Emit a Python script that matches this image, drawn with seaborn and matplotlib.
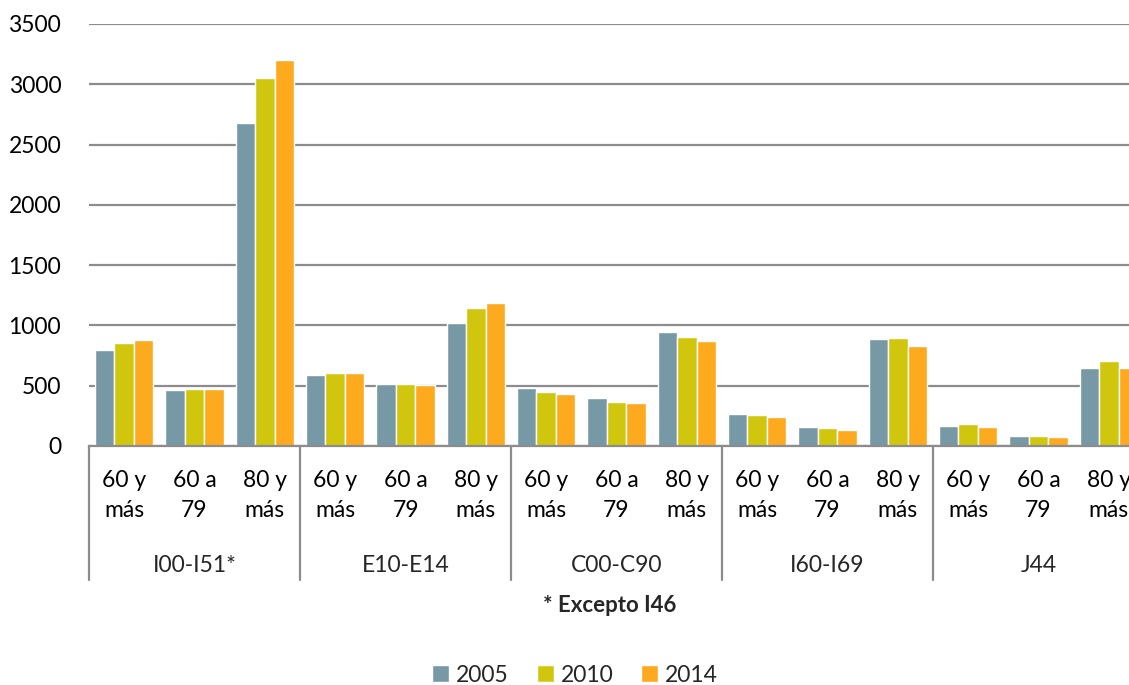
import pandas as pd
import seaborn as sns
import matplotlib.pyplot as plt
from matplotlib.patches import Patch

groups = ["I00-I51*", "E10-E14", "C00-C90", "I60-I69", "J44"]
ages = ["60 y\nmás", "60 a\n79", "80 y\nmás"]
years = ["2005", "2010", "2014"]

v2005 = [793, 461, 2677, 586, 511, 1017, 483, 401, 942, 268, 157, 890, 168, 86, 646]
v2010 = [856, 472, 3053, 608, 514, 1146, 448, 368, 906, 260, 149, 895, 179, 84, 702]
v2014 = [876, 469, 3199, 605, 503, 1188, 431, 354, 870, 238, 133, 829, 157, 75, 646]

colors = ["#7799A5", "#D1C60E", "#FDAA1F"]

keys = [g + "|" + a for g in groups for a in ages]
rows = []
for yr, vals in zip(years, [v2005, v2010, v2014]):
    for k, v in zip(keys, vals):
        rows.append({"cat": k, "year": yr, "value": v})
df = pd.DataFrame(rows)

sns.set_style("white")
plt.rcParams['font.family'] = ['Lato', 'DejaVu Sans']

fig = plt.figure(figsize=(11.29, 6.85), dpi=100)
ax = fig.add_axes([89 / 1129, 1 - 446 / 685, 1 - 89 / 1129, 422 / 685])

sns.barplot(data=df, x="cat", y="value", hue="year", order=keys,
            palette=colors, saturation=1, width=0.83, edgecolor="white",
            linewidth=1, ax=ax, legend=False)

ax.set_ylim(0, 3500)
ax.set_xlim(-0.5, -0.5 + (1129 - 89) / (211 / 3))
ax.set_yticks(range(0, 3501, 500))
ax.yaxis.grid(True, color="#8c8c8c", lw=1.6)
ax.set_axisbelow(True)
for s in ["left", "top", "right"]:
    ax.spines[s].set_visible(False)
ax.spines["bottom"].set_color("#8c8c8c")
ax.spines["bottom"].set_linewidth(1.6)
ax.tick_params(axis="both", length=0, labelsize=16.5, colors="black")
ax.tick_params(axis="y", pad=20)
ax.set_xticks(range(len(keys)))
ax.set_xticklabels([a for g in groups for a in ages], fontsize=16.5,
                   linespacing=1.55)
ax.tick_params(axis="x", pad=17)
ax.set_xlabel("")
ax.set_ylabel("")

tr = ax.get_xaxis_transform()
for i in range(len(groups)):
    ax.plot([i * 3 - 0.5, i * 3 - 0.5], [0, -(580 - 446) / 422], color="#8c8c8c",
            lw=1.6, transform=tr, clip_on=False)
    ax.text(i * 3 + 1, -(565 - 446) / 422, groups[i], transform=tr,
            ha="center", va="center", fontsize=16.5)

fig.text(610 / 1129, 1 - 605 / 685, "* Excepto I46", ha="center", va="center",
         fontsize=16, fontweight="bold")

handles = [Patch(facecolor=c, label=y) for c, y in zip(colors, years)]
fig.legend(handles=handles, loc="center", bbox_to_anchor=(575 / 1129, 1 - 675 / 685),
           ncol=3, frameon=False, fontsize=16.5, handlelength=0.75, handleheight=0.75,
           handletextpad=0.3, columnspacing=1.2)

fig.savefig("out.png", dpi=100)
